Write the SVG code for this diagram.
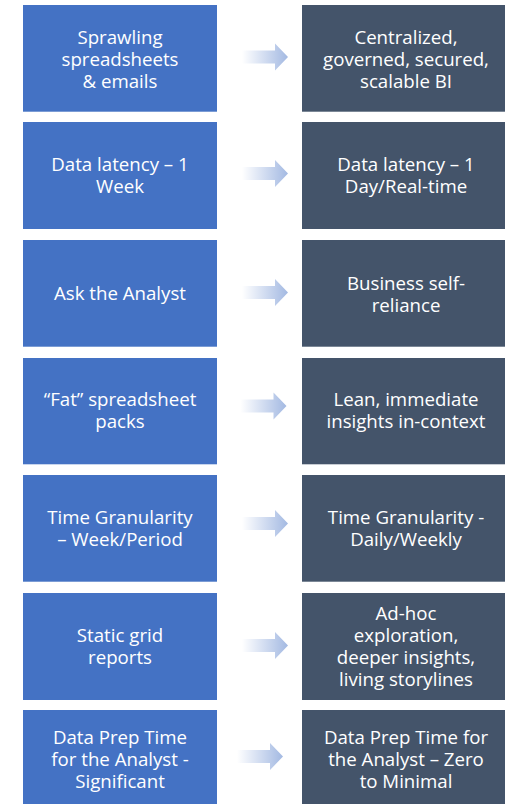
<svg xmlns="http://www.w3.org/2000/svg" width="505" height="804" viewBox="0 0 505 804">
<defs>
<linearGradient id="ag" x1="0" y1="0" x2="1" y2="0">
<stop offset="0" stop-color="#ffffff"/>
<stop offset="1" stop-color="#a3b9e2"/>
</linearGradient>
<path id="arr" d="M0,-6.5 H33 V-13.5 L46,0 L33,13.5 V6.5 H0 Z" fill="url(#ag)"/>
</defs>
<style>
.l{fill:#4472C4}
.r{fill:#44546A}
text{font-family:"Open Sans","Noto Sans","Liberation Sans",sans-serif;font-size:18.67px;fill:#ffffff;text-anchor:middle}
</style>
<rect width="505" height="804" fill="#ffffff"/>
<g id="connectors">
<use href="#arr" x="242" y="57"/>
<use href="#arr" x="242" y="173.5"/>
<use href="#arr" x="242" y="292.5"/>
<use href="#arr" x="240.5" y="406"/>
<use href="#arr" x="242" y="523.5"/>
<use href="#arr" x="242" y="645.5"/>
<use href="#arr" x="237" y="756.5"/>
</g>
<g id="n1l"><rect class="l" x="23" y="5" width="194" height="106.7"/><text x="120" y="43.5">Sprawling</text><text x="120" y="65.5">spreadsheets</text><text x="120" y="87.5">&amp; emails</text></g>
<g id="n1r"><rect class="r" x="302" y="5" width="203" height="106.7"/><text x="406" y="43.5">Centralized,</text><text x="406" y="65.5">governed, secured,</text><text x="406" y="87.5">scalable BI</text></g>
<g id="n2l"><rect class="l" x="23" y="122" width="194" height="107"/><text x="120" y="171">Data latency – 1</text><text x="120" y="193.3">Week</text></g>
<g id="n2r"><rect class="r" x="302" y="122" width="203" height="107"/><text x="406" y="171">Data latency – 1</text><text x="406" y="193.3">Day/Real-time</text></g>
<g id="n3l"><rect class="l" x="23" y="240" width="194" height="106.7"/><text x="120" y="300">Ask the Analyst</text></g>
<g id="n3r"><rect class="r" x="302" y="240" width="203" height="106.7"/><text x="406" y="289.5">Business self-</text><text x="406" y="311.7">reliance</text></g>
<g id="n4l"><rect class="l" x="23" y="358" width="194" height="106.3"/><text x="120" y="406">“Fat” spreadsheet</text><text x="120" y="428">packs</text></g>
<g id="n4r"><rect class="r" x="302" y="358" width="203" height="106.3"/><text x="406" y="406">Lean, immediate</text><text x="406" y="428">insights in-context</text></g>
<g id="n5l"><rect class="l" x="23" y="475" width="194" height="106.7"/><text x="120" y="524">Time Granularity</text><text x="120" y="546">– Week/Period</text></g>
<g id="n5r"><rect class="r" x="302" y="475" width="203" height="106.7"/><text x="406" y="524">Time Granularity -</text><text x="406" y="546">Daily/Weekly</text></g>
<g id="n6l"><rect class="l" x="23" y="593" width="194" height="107"/><text x="120" y="642">Static grid</text><text x="120" y="664">reports</text></g>
<g id="n6r"><rect class="r" x="302" y="593" width="203" height="107"/><text x="406" y="619.5">Ad-hoc</text><text x="406" y="641.8">exploration,</text><text x="406" y="664">deeper insights,</text><text x="406" y="686.3">living storylines</text></g>
<g id="n7l"><rect class="l" x="23" y="710" width="194" height="94"/><text x="120" y="743.5">Data Prep Time</text><text x="120" y="765.5">for the Analyst -</text><text x="120" y="787.5">Significant</text></g>
<g id="n7r"><rect class="r" x="302" y="710" width="203" height="94"/><text x="406" y="743.5">Data Prep Time for</text><text x="406" y="765.5">the Analyst – Zero</text><text x="406" y="787.5">to Minimal</text></g>
</svg>
